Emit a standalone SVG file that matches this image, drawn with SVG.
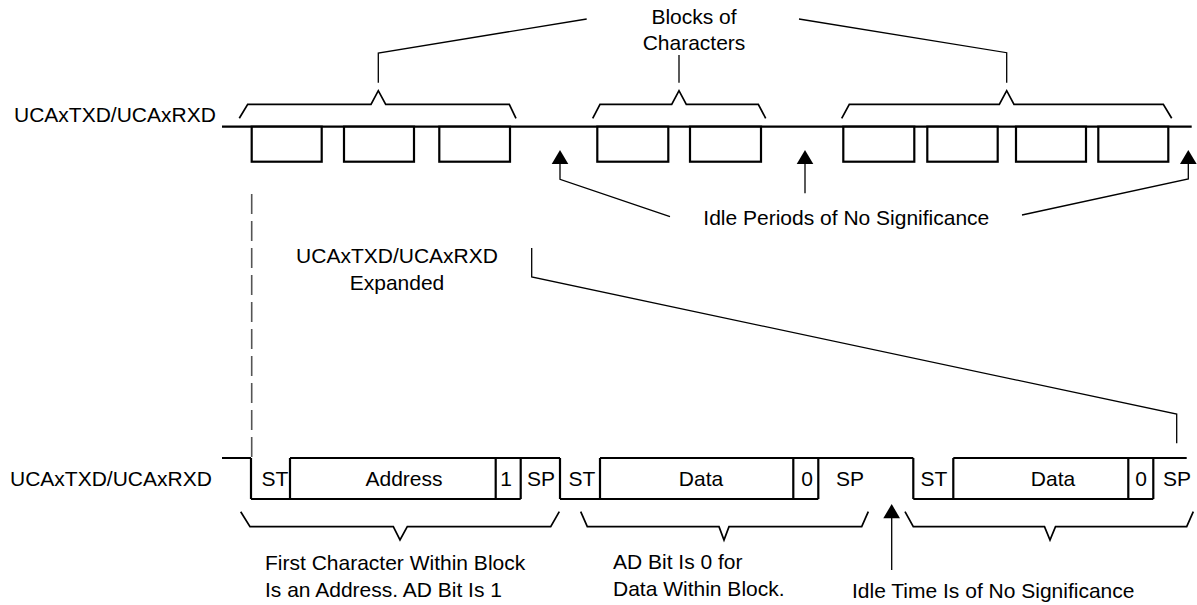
<svg xmlns="http://www.w3.org/2000/svg" width="1197" height="605" viewBox="0 0 1197 605">
<style>
text{font-family:"Liberation Sans",Arial,sans-serif;font-size:21px;fill:#000}
.m{text-anchor:middle}
.wave{fill:none;stroke:#000;stroke-width:2.2;stroke-linejoin:miter}
.box{fill:#fff;stroke:#000;stroke-width:2.2}
.brace{fill:none;stroke:#000;stroke-width:1.7;stroke-linejoin:miter}
.call{fill:none;stroke:#000;stroke-width:1.3}
.arr{fill:#000;stroke:none}
.dash{fill:none;stroke:#555;stroke-width:1.6;stroke-dasharray:20,7}
</style>
<rect width="1197" height="605" fill="#fff"/>
<g id="top-signal">
<text x="14" y="122">UCAxTXD/UCAxRXD</text>
<path class="wave" d="M222,126.7 H1191.7"/>
<rect class="box" x="251.7" y="126.7" width="70" height="35"/>
<rect class="box" x="344" y="126.7" width="70" height="35"/>
<rect class="box" x="439.3" y="126.7" width="70.7" height="35"/>
<rect class="box" x="597.3" y="126.7" width="71" height="35"/>
<rect class="box" x="690" y="126.7" width="71" height="35"/>
<rect class="box" x="843.3" y="126.7" width="71" height="35"/>
<rect class="box" x="927.3" y="126.7" width="70.4" height="35"/>
<rect class="box" x="1016" y="126.7" width="70" height="35"/>
<rect class="box" x="1098.3" y="126.7" width="70" height="35"/>
</g>
<g id="top-braces">
<path class="brace" d="M239.3,118.3 L247.7,104.3 H371 L378.3,90.7 L385.7,104.3 H509.3 L516,118.3"/>
<path class="brace" d="M592.7,118.3 L600,104.3 H671.7 L679,90.7 L686.3,104.3 H758.3 L765.7,118.3"/>
<path class="brace" d="M841.7,118.3 L849.3,104.3 H999.3 L1006.7,90.7 L1014,104.3 H1163.3 L1171.7,118.3"/>
</g>
<g id="blocks-label">
<text class="m" x="694" y="24">Blocks of</text>
<text class="m" x="694" y="50">Characters</text>
</g>
<g id="idle-label">
<text x="703.3" y="225">Idle Periods of No Significance</text>
</g>
<g id="expanded-label">
<text class="m" x="397" y="263.3">UCAxTXD/UCAxRXD</text>
<text class="m" x="397" y="290">Expanded</text>
</g>
<g id="bottom-signal">
<text x="10" y="486">UCAxTXD/UCAxRXD</text>
<path class="wave" d="M222,458 H251 M290,458 H560 M600,458 H913.3 M953.3,458 H1186.7 M251,499 H520.7 M560,499 H818.3 M913.3,499 H1153.3 M251,458 V499 M290,458 V499 M495.7,458 V499 M520.7,458 V499 M560,458 V499 M600,458 V499 M793.3,458 V499 M818.3,458 V499 M913.3,458 V499 M953.3,458 V499 M1128.3,458 V499 M1153.3,458 V499"/>
<text class="m" x="275" y="486">ST</text>
<text class="m" x="404" y="486">Address</text>
<text class="m" x="506" y="486">1</text>
<text class="m" x="541" y="486">SP</text>
<text class="m" x="582" y="486">ST</text>
<text class="m" x="701" y="486">Data</text>
<text class="m" x="807" y="486">0</text>
<text class="m" x="850" y="486">SP</text>
<text class="m" x="934" y="486">ST</text>
<text class="m" x="1053" y="486">Data</text>
<text class="m" x="1141" y="486">0</text>
<text class="m" x="1177" y="486">SP</text>
</g>
<g id="bottom-braces">
<path class="brace" d="M240.7,511.7 L250,526.7 H393.3 L400,540 L407.3,526.7 H550.7 L559.3,511.7"/>
<path class="brace" d="M580.7,511.7 L587.3,526.7 H719 L724,540 L729,526.7 H861.7 L868.3,511.7"/>
<path class="brace" d="M905,511.7 L913.3,526.7 H1044.5 L1050,540 L1055.5,526.7 H1186.7 L1193.3,511.7"/>
</g>
<g id="first-char-label">
<text x="265" y="570">First Character Within Block</text>
<text x="265" y="597">Is an Address. AD Bit Is 1</text>
</g>
<g id="data-label">
<text x="613" y="569">AD Bit Is 0 for</text>
<text x="613" y="596">Data Within Block.</text>
</g>
<g id="idle-time-label">
<text x="852" y="598">Idle Time Is of No Significance</text>
</g>
<g id="connectors">
<path class="call" d="M378.3,82.7 V53 L586.7,19"/>
<path class="call" d="M679,82.7 V55"/>
<path class="call" d="M1006.7,82.7 V52.7 L799,19"/>
<path class="call" d="M560,163 V179.3 L670,216.7"/>
<path class="call" d="M805,163 V193.3"/>
<path class="call" d="M1188.3,163 V179 L1022,215"/>
<path class="call" d="M531.7,248 V277 L1176.7,414 V443.3"/>
<path class="call" d="M891.7,517 V570"/>
<path class="dash" d="M251.7,194 V458"/>
<polygon class="arr" points="560,150 551.7,164 568.3,164"/>
<polygon class="arr" points="805,150 796.7,164 813.3,164"/>
<polygon class="arr" points="1188.3,150 1180,164 1196.7,164"/>
<polygon class="arr" points="891.7,504 883.3,518.3 900,518.3"/>
</g>
</svg>
